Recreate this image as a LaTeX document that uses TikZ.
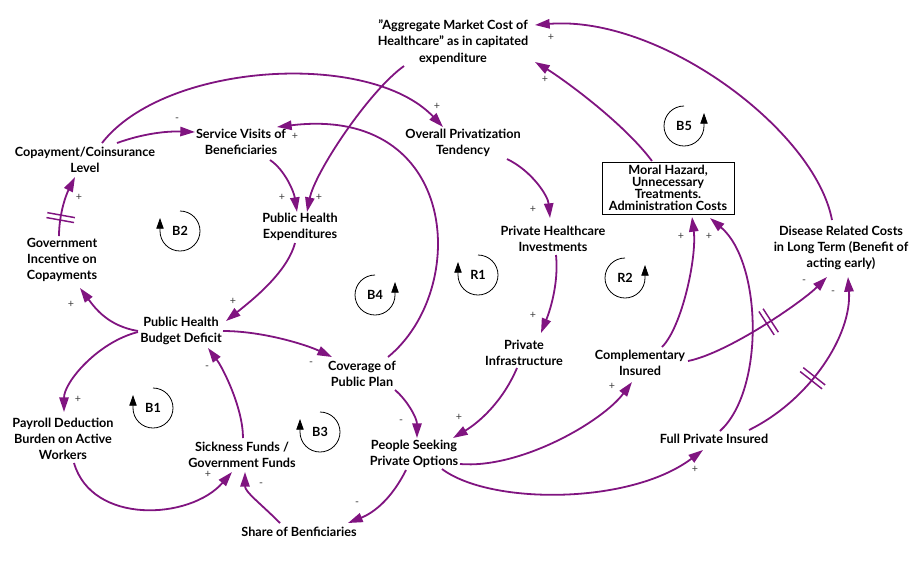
\documentclass[tikz,border=0pt]{standalone}
\usepackage{fontspec}
\setmainfont{Lato}
\usetikzlibrary{arrows.meta,decorations.markings}
\definecolor{pcol}{RGB}{128,20,128}
\definecolor{signcol}{RGB}{60,60,60}
\newcommand\loopleft[3]{%
  \node[looplab] (#3) at (#1,#2) {#3};
  \draw[loopline] (#1,#2) ++(0,-20) arc[start angle=-90,end angle=180,radius=20] -- ++(0,-13);}
\newcommand\loopright[3]{%
  \node[looplab] (#3) at (#1,#2) {#3};
  \draw[loopline] (#1,#2) ++(0,-20) arc[start angle=270,end angle=0,radius=20] -- ++(0,-13);}
\begin{document}
\begin{tikzpicture}[x=0.75pt,y=-0.75pt,
  var/.style={font=\fontsize{9.5}{12.2}\selectfont\bfseries, align=center, inner sep=1pt, text=black},
  conn/.style={draw=pcol, line width=1.35pt, -{Triangle[length=11pt,width=7pt]}},
  sgn/.style={font=\fontsize{8}{9}\selectfont, text=signcol, inner sep=0pt},
  looplab/.style={font=\fontsize{9.5}{10}\selectfont\bfseries, inner sep=0pt},
  loopline/.style={draw=black, line width=0.6pt, -{Triangle[length=8pt,width=5.5pt]}},
  delaymark/.style={postaction={decorate,decoration={markings,mark=at position #1 with {\draw[-,draw=pcol,line width=1.1pt] (-2.5,-14) -- (-2.5,14) (2.5,-14) -- (2.5,14);}}}}
]
\useasboundingbox (0,0) rectangle (921,587);

% variables
\node[var] (agg) at (453,42) {"Aggregate Market Cost of\\Healthcare" as in capitated\\expenditure};
\node[var] (copay) at (85,160) {Copayment/Coinsurance\\Level};
\node[var] (svis) at (241,142) {Service Visits of\\Beneficiaries};
\node[var] (opriv) at (463,143) {Overall Privatization\\Tendency};
\node[var] (phe) at (300,227) {Public Health\\Expenditures};
\node[var] (gov) at (62,260) {Government\\Incentive on\\Copayments};
\node[var] (phbd) at (181,331) {Public Health\\Budget Deficit};
\node[var, draw, line width=0.6pt, inner sep=0pt, minimum width=99pt, minimum height=39pt,
  font=\fontsize{9.5}{9}\selectfont\bfseries] (moral) at (668,188) {Moral Hazard,\\Unnecessary\\Treatments.\\Administration Costs};
\node[var] (phi) at (553,239) {Private Healthcare\\Investments};
\node[var] (disease) at (841,248) {Disease Related Costs\\in Long Term (Benefit of\\acting early)};
\node[var] (cov) at (362,374) {Coverage of\\Public Plan};
\node[var] (pinf) at (524,353) {Private\\Infrastructure};
\node[var] (comp) at (640,363) {Complementary\\Insured};
\node[var] (payroll) at (63,439) {Payroll Deduction\\Burden on Active\\Workers};
\node[var] (sick) at (242,455) {Sickness Funds /\\Government Funds};
\node[var] (pso) at (414,454) {People Seeking\\Private Options};
\node[var] (fpi) at (714,439) {Full Private Insured};
\node[var] (share) at (299,532) {Share of Benficiaries};

% loop markers
\loopleft{180}{231}{B2}
\loopleft{153}{408}{B1}
\loopleft{320}{432}{B3}
\loopleft{478}{275}{R1}
\loopright{375}{295}{B4}
\loopright{625}{278}{R2}
\loopright{684}{126}{B5}

% connectors
\draw[conn] ([shift={(32,-17)}]copay.center) .. controls +(25,-9) and +(-30,-1) .. ([shift={(-46,-10)}]svis.center);
\node[sgn] (s1) at (177,120) {-};
\draw[conn] ([shift={(17,-17)}]copay.center) .. controls +(63,-81) and +(-73,-77) .. ([shift={(-20,-16)}]opriv.center);
\node[sgn] (s2) at (437,106) {+};
\draw[conn, delaymark=0.3] ([shift={(-3,-24)}]gov.center) .. controls +(0,-20) and +(-10,20) .. ([shift={(-10,17)}]copay.center);
\node[sgn] (s3) at (79,197) {+};
\draw[conn] ([shift={(29,18)}]svis.center) .. controls +(15,10) and +(-3,-20) .. ([shift={(-3,-15)}]phe.center);
\node[sgn] (s4) at (282,197) {+};
\draw[conn] ([shift={(-49,24)}]agg.center) .. controls +(-35,25) and +(8,-40) .. ([shift={(7,-15)}]phe.center);
\node[sgn] (s5) at (319,197) {+};
\draw[conn] ([shift={(-5,16)}]phe.center) .. controls +(-8,30) and +(25,-20) .. ([shift={(45,-10)}]phbd.center);
\node[sgn] (s6) at (233,301) {+};
\draw[conn] ([shift={(-43,0)}]phbd.center) .. controls +(-30,-5) and +(15,20) .. ([shift={(18,28)}]gov.center);
\node[sgn] (s7) at (71,304) {+};
\draw[conn] ([shift={(-43,1)}]phbd.center) .. controls +(-40,10) and +(0,-30) .. ([shift={(1,-27)}]payroll.center);
\node[sgn] (s8) at (78,399) {+};
\draw[conn] ([shift={(11,24)}]payroll.center) .. controls +(18,62) and +(-42,48) .. ([shift={(-10,17)}]sick.center);
\node[sgn] (s9) at (208,474) {+};
\draw[conn] ([shift={(1,-17)}]sick.center) .. controls +(0,-30) and +(15,20) .. ([shift={(27,17)}]phbd.center);
\node[sgn] (s10) at (207,368) {-};
\draw[conn] ([shift={(42,0)}]phbd.center) .. controls +(40,0) and +(-25,-12) .. ([shift={(-30,-17)}]cov.center);
\node[sgn] (s11) at (311,364) {-};
\draw[conn] ([shift={(26,-17)}]cov.center) .. controls +(82,-67) and +(183,-22) .. ([shift={(36,-15)}]svis.center);
\node[sgn] (s12) at (295,136) {+};
\draw[conn] ([shift={(33,16)}]cov.center) .. controls +(12,10) and +(0,-20) .. ([shift={(3,-16)}]pso.center);
\node[sgn] (s13) at (401,422) {-};
\draw[conn] ([shift={(44,16)}]opriv.center) .. controls +(25,12) and +(-2,-22) .. ([shift={(-3,-21)}]phi.center);
\node[sgn] (s14) at (533,209) {+};
\draw[conn] ([shift={(3,16)}]phi.center) .. controls +(3,30) and +(8,-20) .. ([shift={(17,-20)}]pinf.center);
\node[sgn] (s15) at (533,315) {+};
\draw[conn] ([shift={(-7,15)}]pinf.center) .. controls +(-15,35) and +(25,-15) .. ([shift={(39,-16)}]pso.center);
\node[sgn] (s16) at (459,417) {+};
\draw[conn] ([shift={(-8,16)}]pso.center) .. controls +(-15,30) and +(25,-10) .. ([shift={(49,-9)}]share.center);
\node[sgn] (s17) at (357,504) {-};
\draw[conn] ([shift={(-19,-9)}]share.center) .. controls +(-20,-20) and +(0,20) .. ([shift={(3,17)}]sick.center);
\node[sgn] (s18) at (261,485) {-};
\draw[conn] ([shift={(46,10)}]pso.center) .. controls +(60,5) and +(-30,40) .. ([shift={(-8,19)}]comp.center);
\node[sgn] (s19) at (612,386) {+};
\draw[conn] ([shift={(28,15)}]pso.center) .. controls +(48,36) and +(-73,55) .. ([shift={(-11,11)}]fpi.center);
\node[sgn] (s20) at (695,469) {+};
\draw[conn] ([shift={(22,-16)}]comp.center) .. controls +(20,-20) and +(5,40) .. ([shift={(24,29)}]moral.center);
\node[sgn] (s21) at (681,236) {+};
\draw[conn] ([shift={(6,-8)}]fpi.center) .. controls +(45,-41) and +(52,44) .. ([shift={(42,30)}]moral.center);
\node[sgn] (s22) at (709,236) {+};
\draw[conn, delaymark=0.55] ([shift={(48,-2)}]comp.center) .. controls +(40,-8) and +(-25,25) .. ([shift={(-14,29)}]disease.center);
\node[sgn] (s23) at (804,282) {-};
\draw[conn, delaymark=0.43] ([shift={(35,-9)}]fpi.center) .. controls +(61,-30) and +(4,58) .. ([shift={(7,29)}]disease.center);
\node[sgn] (s24) at (833,293) {-};
\draw[conn] ([shift={(-16,-27)}]moral.center) .. controls +(-30,-40) and +(25,15) .. ([shift={(82,20)}]agg.center);
\node[sgn] (s25) at (545,79) {+};
\draw[conn] ([shift={(-9,-28)}]disease.center) .. controls +(-17,-90) and +(125,-10) .. ([shift={(82,-17)}]agg.center);
\node[sgn] (s26) at (551,37) {+};
\end{tikzpicture}
\end{document}
